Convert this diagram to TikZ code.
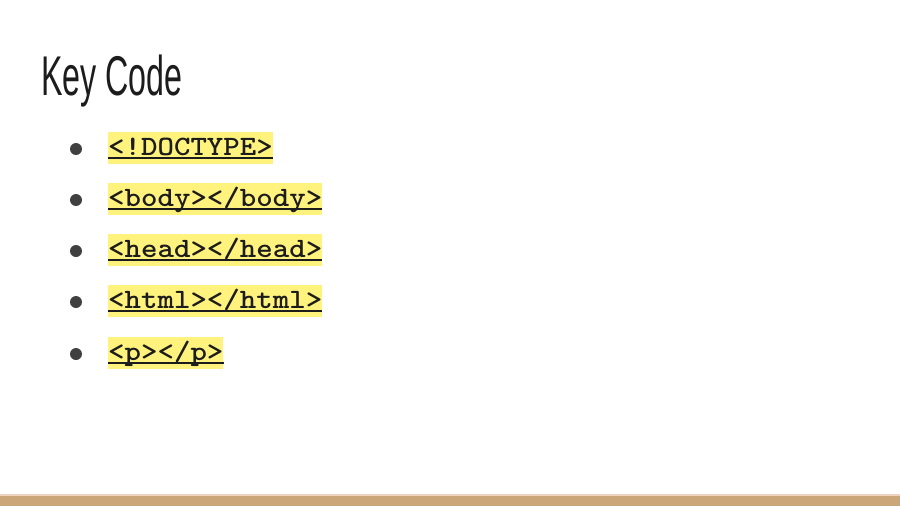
\documentclass[tikz,border=0pt]{standalone}
\usepackage{fontspec}
\usepackage{graphicx}
\setmainfont{Liberation Sans}

\definecolor{hilite}{RGB}{255,242,125}
\definecolor{codeink}{RGB}{28,28,28}
\definecolor{dotgray}{RGB}{64,64,64}
\definecolor{bartan}{RGB}{203,166,120}
\definecolor{barline}{RGB}{240,210,190}

\newcommand{\codetext}[1]{\scalebox{1.12}[1]{#1}}

\tikzset{
  keycode/.style={anchor=base west, fill=hilite, inner xsep=0pt, inner ysep=0pt,
    text height=23pt, text depth=9pt, text=codeink,
    font=\ttfamily\bfseries\fontsize{28}{30}\selectfont},
  bulletdot/.style={circle, fill=dotgray, inner sep=0pt, minimum size=12pt},
  underbar/.style={draw=codeink, line width=1.8pt}
}

\begin{document}
\begin{tikzpicture}[x=1pt, y=-1pt]
  % page
  \fill[white] (0,0) rectangle (900,506);
  \useasboundingbox (0,0) rectangle (900,506);
  \fill[barline] (0,494) rectangle (900,496);
  \fill[bartan] (0,496) rectangle (900,506);

  % title
  \node[anchor=base west, inner sep=0pt, text=codeink,
        font=\fontsize{56}{60}\selectfont] (title) at (41,95)
        {\scalebox{0.575}[1]{Key Code}};

  % bullets
  \node[bulletdot] (b1) at (76,149) {};
  \node[bulletdot] (b2) at (76,200) {};
  \node[bulletdot] (b3) at (76,251) {};
  \node[bulletdot] (b4) at (76,302) {};
  \node[bulletdot] (b5) at (76,354) {};

  % key code
  \node[keycode] (doctype) at (108,155) {\codetext{<!DOCTYPE>}};
  \node[keycode] (body)    at (108,206) {\codetext{<body></body>}};
  \node[keycode] (head)    at (108,257) {\codetext{<head></head>}};
  \node[keycode] (html)    at (108,308) {\codetext{<html></html>}};
  \node[keycode] (para)    at (108,360) {\codetext{<p></p>}};

  % underlines
  \foreach \n in {doctype,body,head,html,para}
    \draw[underbar] ([yshift=-3pt]\n.base west) -- ([yshift=-3pt]\n.base east);
\end{tikzpicture}
\end{document}
